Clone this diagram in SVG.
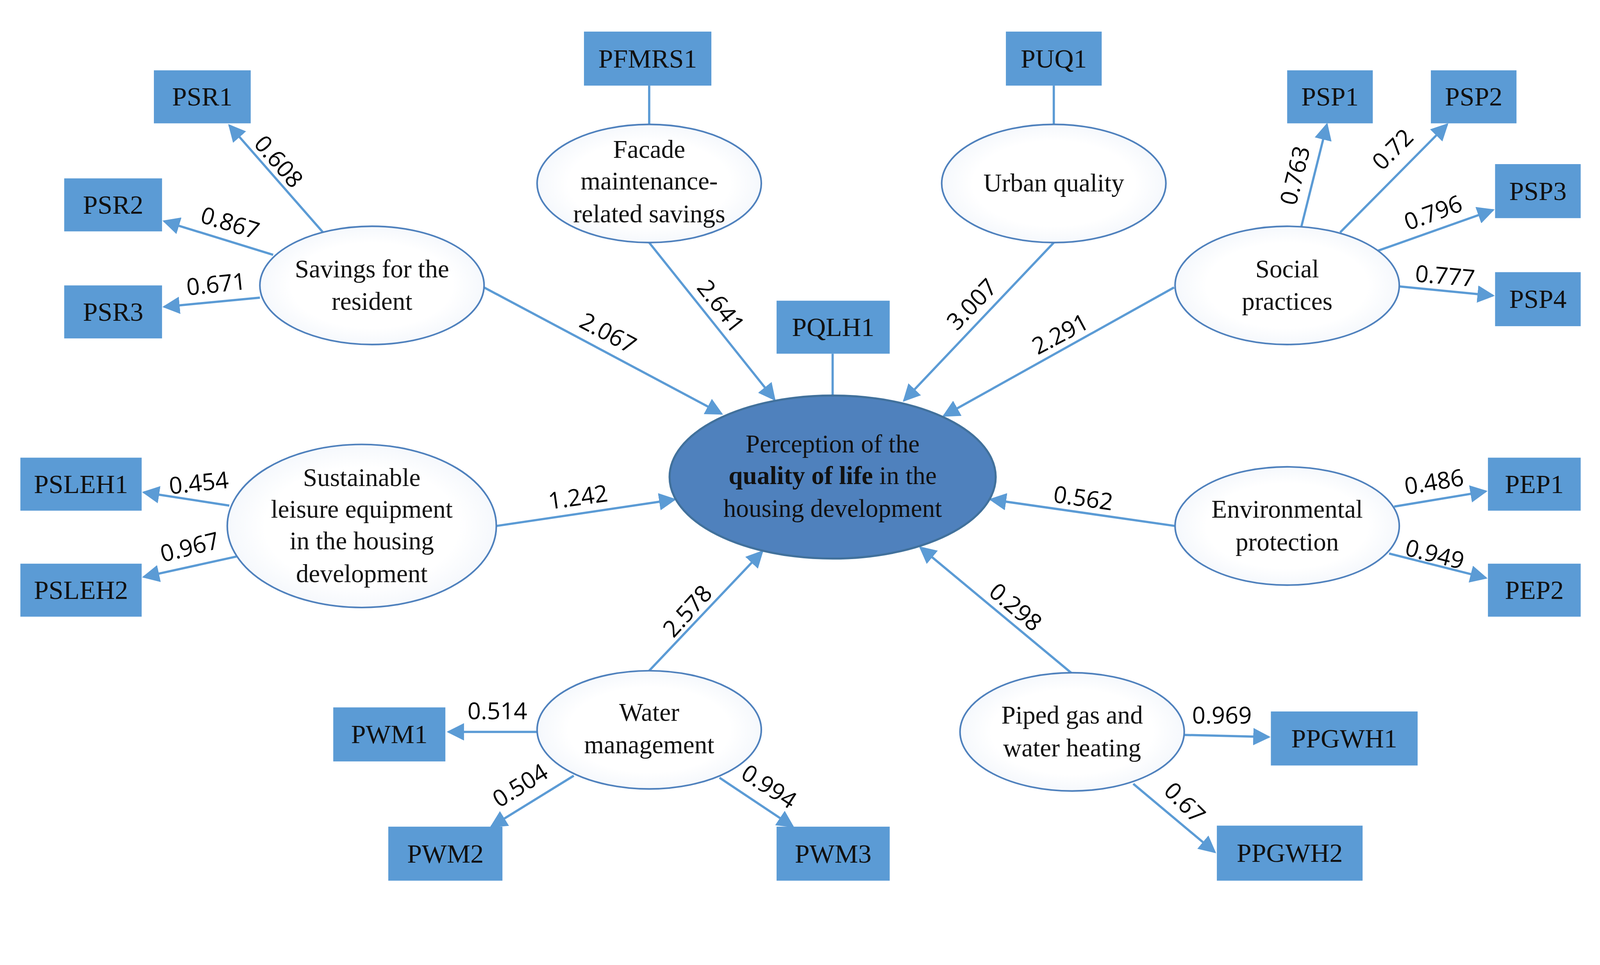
<svg xmlns="http://www.w3.org/2000/svg" width="4412" height="2470" viewBox="0 0 4412 2470">
<defs>
<style>
.box{fill:#5b9bd5;}
.bt{font-family:"Liberation Serif",serif;font-size:26px;fill:#111;text-anchor:middle;dominant-baseline:central;}
.el{fill:url(#g);stroke:#4f81bd;stroke-width:1.6;}
.et{font-family:"Liberation Serif",serif;font-size:25px;fill:#111;text-anchor:middle;}
.ln{stroke:#5b9bd5;stroke-width:2.2;fill:none;}
.ar{stroke:#5b9bd5;stroke-width:2.2;fill:none;marker-end:url(#a);}
.lb{font-family:"Open Sans","DejaVu Sans",sans-serif;font-size:23px;fill:#000;text-anchor:middle;dominant-baseline:central;}
</style>
<radialGradient id="g" cx="0.5" cy="0.5" r="0.6"><stop offset="0.6" stop-color="#ffffff"/><stop offset="1" stop-color="#eef3fa"/></radialGradient>
<marker id="a" viewBox="0 0 10 10" refX="9" refY="5" markerWidth="17" markerHeight="17" markerUnits="userSpaceOnUse" orient="auto"><path d="M0,0L10,5L0,10z" fill="#5b9bd5"/></marker>
</defs>
<rect width="4412" height="2470" fill="#fff"/>
<g transform="scale(2.609)">
<g id="connectors">
<line class="ln" x1="637" y1="84" x2="637" y2="122"/>
<line class="ln" x1="1034" y1="84" x2="1034" y2="122"/>
<line class="ln" x1="817" y1="347" x2="817" y2="388"/>
<line class="ar" x1="317" y1="228" x2="225" y2="123"/>
<line class="ar" x1="268" y1="250" x2="161" y2="217"/>
<line class="ar" x1="255" y1="292" x2="161" y2="301"/>
<line class="ar" x1="475" y1="282" x2="708" y2="406"/>
<line class="ar" x1="637" y1="238" x2="760" y2="392"/>
<line class="ar" x1="1034" y1="238" x2="887" y2="393"/>
<line class="ar" x1="1152" y1="282" x2="926" y2="408"/>
<line class="ar" x1="1277" y1="222" x2="1302" y2="122"/>
<line class="ar" x1="1315" y1="228" x2="1420" y2="122"/>
<line class="ar" x1="1352" y1="246" x2="1465" y2="206"/>
<line class="ar" x1="1373" y1="281" x2="1465" y2="290"/>
<line class="ar" x1="225" y1="496" x2="141" y2="483"/>
<line class="ar" x1="232" y1="546" x2="141" y2="566"/>
<line class="ar" x1="487" y1="516" x2="662" y2="490"/>
<line class="ar" x1="1153" y1="516" x2="972" y2="490"/>
<line class="ar" x1="1368" y1="497" x2="1458" y2="482"/>
<line class="ar" x1="1363" y1="543" x2="1458" y2="567"/>
<line class="ar" x1="637" y1="658" x2="748" y2="541"/>
<line class="ar" x1="527" y1="718" x2="440" y2="718"/>
<line class="ar" x1="563" y1="761" x2="482" y2="811"/>
<line class="ar" x1="706" y1="763" x2="778" y2="811"/>
<line class="ar" x1="1051" y1="660" x2="903" y2="537"/>
<line class="ar" x1="1162" y1="721" x2="1245" y2="723"/>
<line class="ar" x1="1112" y1="769" x2="1192" y2="836"/>
<text class="lb" transform="translate(274,158) rotate(49)">0.608</text>
<text class="lb" transform="translate(226,218) rotate(17)">0.867</text>
<text class="lb" transform="translate(212,278) rotate(-6)">0.671</text>
<text class="lb" transform="translate(597,326) rotate(28)">2.067</text>
<text class="lb" transform="translate(708,300) rotate(51.5)">2.641</text>
<text class="lb" transform="translate(953,298) rotate(-46)">3.007</text>
<text class="lb" transform="translate(1040,327) rotate(-28)">2.291</text>
<text class="lb" transform="translate(1270,172) rotate(-76)">0.763</text>
<text class="lb" transform="translate(1366,146) rotate(-45)">0.72</text>
<text class="lb" transform="translate(1406,208) rotate(-20)">0.796</text>
<text class="lb" transform="translate(1418,270) rotate(5)">0.777</text>
<text class="lb" transform="translate(195,473) rotate(-6)">0.454</text>
<text class="lb" transform="translate(186,536) rotate(-14)">0.967</text>
<text class="lb" transform="translate(567,487) rotate(-8)">1.242</text>
<text class="lb" transform="translate(1063,488) rotate(8)">0.562</text>
<text class="lb" transform="translate(1407,472) rotate(-9)">0.486</text>
<text class="lb" transform="translate(1408,543) rotate(14)">0.949</text>
<text class="lb" transform="translate(674,599) rotate(-48)">2.578</text>
<text class="lb" transform="translate(997,595) rotate(40)">0.298</text>
<text class="lb" transform="translate(488,697)">0.514</text>
<text class="lb" transform="translate(510,770) rotate(-32)">0.504</text>
<text class="lb" transform="translate(755,771) rotate(33)">0.994</text>
<text class="lb" transform="translate(1199,701)">0.969</text>
<text class="lb" transform="translate(1163,787) rotate(45)">0.67</text>
</g>
<g id="PSR1"><rect class="box" x="151" y="69" width="95" height="52"/><text class="bt" x="198.5" y="95">PSR1</text></g>
<g id="PSR2"><rect class="box" x="63" y="175" width="96" height="52"/><text class="bt" x="111" y="201">PSR2</text></g>
<g id="PSR3"><rect class="box" x="63" y="280" width="96" height="52"/><text class="bt" x="111" y="306">PSR3</text></g>
<g id="PFMRS1"><rect class="box" x="573" y="31" width="125" height="53"/><text class="bt" x="635.5" y="57.5">PFMRS1</text></g>
<g id="PUQ1"><rect class="box" x="987" y="31" width="94" height="53"/><text class="bt" x="1034" y="57.5">PUQ1</text></g>
<g id="PSP1"><rect class="box" x="1263" y="69" width="84" height="52"/><text class="bt" x="1305" y="95">PSP1</text></g>
<g id="PSP2"><rect class="box" x="1404" y="69" width="84" height="52"/><text class="bt" x="1446" y="95">PSP2</text></g>
<g id="PSP3"><rect class="box" x="1467" y="161" width="84" height="53"/><text class="bt" x="1509" y="187.5">PSP3</text></g>
<g id="PSP4"><rect class="box" x="1467" y="267" width="84" height="53"/><text class="bt" x="1509" y="293.5">PSP4</text></g>
<g id="PQLH1"><rect class="box" x="762" y="295" width="111" height="52"/><text class="bt" x="817.5" y="321">PQLH1</text></g>
<g id="PSLEH1"><rect class="box" x="20" y="449" width="119" height="52"/><text class="bt" x="79.5" y="475">PSLEH1</text></g>
<g id="PSLEH2"><rect class="box" x="20" y="553" width="119" height="52"/><text class="bt" x="79.5" y="579">PSLEH2</text></g>
<g id="PEP1"><rect class="box" x="1460" y="449" width="91" height="52"/><text class="bt" x="1505.5" y="475">PEP1</text></g>
<g id="PEP2"><rect class="box" x="1460" y="553" width="91" height="52"/><text class="bt" x="1505.5" y="579">PEP2</text></g>
<g id="PWM1"><rect class="box" x="327" y="694" width="110" height="53"/><text class="bt" x="382" y="720.5">PWM1</text></g>
<g id="PWM2"><rect class="box" x="381" y="811" width="112" height="53"/><text class="bt" x="437" y="837.5">PWM2</text></g>
<g id="PWM3"><rect class="box" x="762" y="811" width="111" height="53"/><text class="bt" x="817.5" y="837.5">PWM3</text></g>
<g id="PPGWH1"><rect class="box" x="1247" y="698" width="144" height="53"/><text class="bt" x="1319" y="724.5">PPGWH1</text></g>
<g id="PPGWH2"><rect class="box" x="1194" y="810" width="143" height="54"/><text class="bt" x="1265.5" y="837">PPGWH2</text></g>
<g id="savings"><ellipse class="el" cx="365" cy="280" rx="110" ry="58"/><text class="et" x="365" y="272">Savings for the</text><text class="et" x="365" y="304">resident</text></g>
<g id="facade"><ellipse class="el" cx="637" cy="180" rx="110" ry="58"/><text class="et" x="637" y="155">Facade</text><text class="et" x="637" y="186">maintenance-</text><text class="et" x="637" y="218">related savings</text></g>
<g id="urban"><ellipse class="el" cx="1034" cy="180" rx="110" ry="58"/><text class="et" x="1034" y="188">Urban quality</text></g>
<g id="social"><ellipse class="el" cx="1263" cy="280" rx="110" ry="58"/><text class="et" x="1263" y="272">Social</text><text class="et" x="1263" y="304">practices</text></g>
<g id="center"><ellipse cx="817" cy="468" rx="160" ry="80" fill="#4f81bd" stroke="#41719c" stroke-width="2"/><text class="et" x="817" y="444">Perception of the</text><text class="et" x="817" y="475"><tspan font-weight="bold">quality of life</tspan> in the</text><text class="et" x="817" y="507">housing development</text></g>
<g id="sustainable"><ellipse class="el" cx="355" cy="516" rx="132" ry="80"/><text class="et" x="355" y="477">Sustainable</text><text class="et" x="355" y="508">leisure equipment</text><text class="et" x="355" y="539">in the housing</text><text class="et" x="355" y="571">development</text></g>
<g id="environmental"><ellipse class="el" cx="1263" cy="516" rx="110" ry="58"/><text class="et" x="1263" y="508">Environmental</text><text class="et" x="1263" y="540">protection</text></g>
<g id="water"><ellipse class="el" cx="637" cy="716" rx="110" ry="58"/><text class="et" x="637" y="707">Water</text><text class="et" x="637" y="739">management</text></g>
<g id="piped"><ellipse class="el" cx="1052" cy="718" rx="110" ry="58"/><text class="et" x="1052" y="710">Piped gas and</text><text class="et" x="1052" y="742">water heating</text></g>
</g>
</svg>
